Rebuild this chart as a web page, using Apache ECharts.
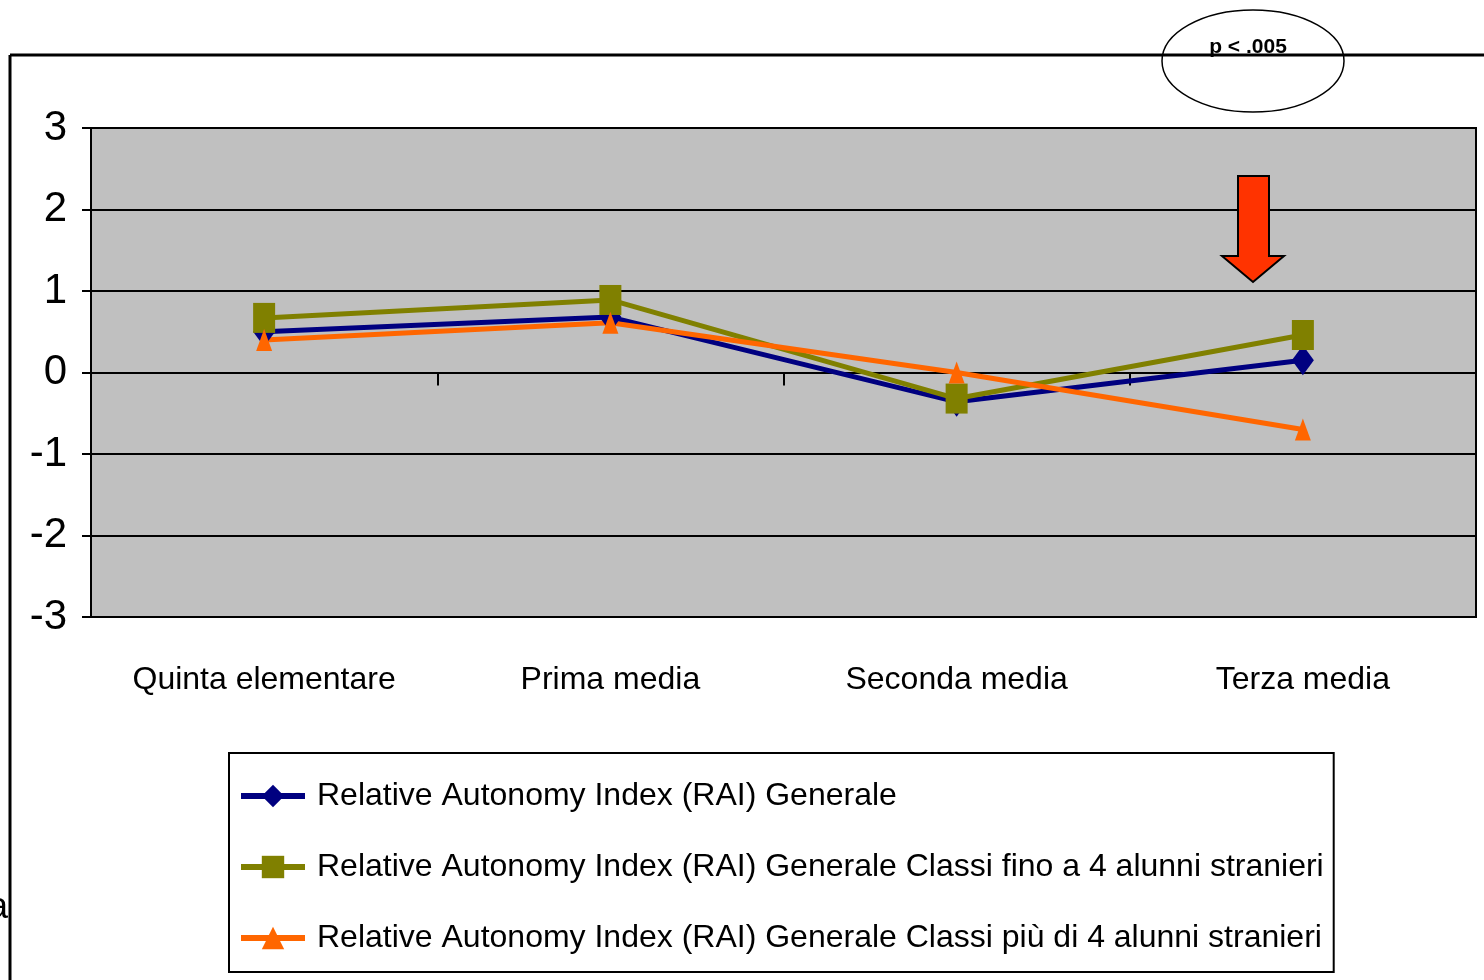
<!DOCTYPE html>
<html>
<head>
<meta charset="utf-8">
<script src="https://cdn.jsdelivr.net/npm/echarts@6/dist/echarts.min.js"></script>
<style>
  html, body { margin: 0; padding: 0; background: #fff; }
  #chart { width: 1484px; height: 980px; }
</style>
</head>
<body>
<div id="chart"></div>
<script>
const categories = ['Quinta elementare', 'Prima media', 'Seconda media', 'Terza media']
const raiGenerale = [0.50, 0.68, -0.36, 0.15]
const raiFino4 = [0.67, 0.89, -0.32, 0.46]
const raiPiu4 = [0.40, 0.61, 0.00, -0.70]
const seriesNames = [
  'Relative Autonomy Index (RAI) Generale',
  'Relative Autonomy Index (RAI) Generale Classi fino a 4 alunni stranieri',
  'Relative Autonomy Index (RAI) Generale Classi più di 4 alunni stranieri'
]
const yTicks = [-3, -2, -1, 0, 1, 2, 3]

// no narrow face available, so a smaller size keeps the widths close
const labelFont = "'Liberation Sans', Arial, sans-serif"

const chart = echarts.init(document.getElementById('chart'))

function lineSeries(name, data, color, symbol, size) {
  return {
    name,
    type: 'line',
    data,
    symbol,
    symbolSize: size,
    lineStyle: { color, width: 5 },
    itemStyle: { color },
    emphasis: { disabled: true },
    animation: false
  }
}

chart.setOption({
  backgroundColor: '#fff',
  grid: {
    left: 91, right: 8, top: 128, bottom: 363,
    show: true, backgroundColor: '#C0C0C0', borderColor: '#000', borderWidth: 2
  },
  xAxis: [
    {
      type: 'category',
      data: categories,
      position: 'bottom',
      axisLine: { show: false, onZero: false },
      axisTick: { show: false },
      axisLabel: { fontFamily: labelFont, fontSize: 32, color: '#000', margin: 47, interval: 0 }
    },
    {
      // tick marks sitting on the zero line
      type: 'category',
      data: categories,
      position: 'bottom',
      axisLine: { show: false, onZero: true },
      axisTick: { show: true, length: 13, lineStyle: { color: '#000', width: 2 } },
      axisLabel: { show: false }
    }
  ],
  yAxis: {
    type: 'value',
    min: yTicks[0], max: yTicks[yTicks.length - 1], interval: 1,
    axisLine: { show: true, lineStyle: { color: '#000', width: 2 } },
    axisTick: { show: true, length: 9, lineStyle: { color: '#000', width: 2 } },
    axisLabel: { fontFamily: labelFont, fontSize: 42, color: '#000', margin: 24 },
    splitLine: { lineStyle: { color: '#000', width: 2 } }
  },
  legend: {
    orient: 'vertical',
    left: 229, top: 753,
    padding: [19, 10, 10, 9],
    itemGap: 23,
    itemWidth: 64, itemHeight: 28,
    backgroundColor: '#fff',
    borderColor: '#000', borderWidth: 2, borderRadius: 0,
    lineStyle: { width: 6 },
    textStyle: { fontFamily: labelFont, fontSize: 32, color: '#000', lineHeight: 48, padding: [0, 0, 0, 7] },
    data: seriesNames
  },
  series: [
    lineSeries(seriesNames[0], raiGenerale, '#000080', 'diamond', [22, 30]),
    lineSeries(seriesNames[1], raiFino4, '#808000', 'rect', [22, 30]),
    lineSeries(seriesNames[2], raiPiu4, '#FF6600', 'triangle', [16, 22])
  ],
  graphic: [
    { type: 'line', shape: { x1: 10, y1: 55, x2: 1484, y2: 55 }, style: { stroke: '#000', lineWidth: 3 } },
    { type: 'line', shape: { x1: 10, y1: 55, x2: 10, y2: 980 }, style: { stroke: '#000', lineWidth: 3 } },
    { type: 'ellipse', shape: { cx: 1253, cy: 61, rx: 91, ry: 51 }, style: { fill: null, stroke: '#000', lineWidth: 1.5 } },
    { type: 'text', x: 1248, y: 58, style: { text: 'p < .005', font: "bold 21px 'Liberation Sans', Arial, sans-serif", fill: '#000', align: 'center', verticalAlign: 'bottom' } },
    {
      type: 'polygon', z: 10,
      shape: { points: [[1238, 176], [1269, 176], [1269, 256], [1284, 256], [1253, 282], [1222, 256], [1238, 256]] },
      style: { fill: '#FF3300', stroke: '#000', lineWidth: 2 }
    },
    { type: 'text', x: 8, y: 908, style: { text: 'a', font: "36px 'Liberation Sans', sans-serif", fill: '#000', align: 'right', verticalAlign: 'middle' } }
  ]
})
</script>
</body>
</html>
